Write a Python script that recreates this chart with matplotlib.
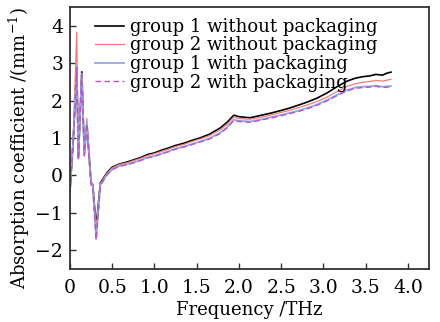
import numpy as np
import matplotlib
matplotlib.use("Agg")
import matplotlib.pyplot as plt

# frequency (THz)
freq = [0.0, 0.04, 0.08, 0.10, 0.14, 0.17, 0.20, 0.25, 0.27, 0.31, 0.36, 0.39,
        0.44, 0.50, 0.58, 0.68, 0.76, 0.84, 0.92, 1.00, 1.08, 1.15, 1.25, 1.35,
        1.45, 1.55, 1.65, 1.78, 1.86, 1.94, 2.00, 2.13, 2.25, 2.37, 2.49, 2.60,
        2.72, 2.82, 2.92, 3.04, 3.16, 3.28, 3.38, 3.47, 3.55, 3.62, 3.70, 3.76,
        3.80]

g1_without = [-0.45, 1.0, 2.9, 0.5, 2.77, 0.6, 1.35, -0.2, -0.25, -1.38, -0.2, -0.1,
              0.08, 0.22, 0.30, 0.36, 0.42, 0.48, 0.56, 0.60, 0.67, 0.72, 0.80, 0.86,
              0.94, 1.01, 1.10, 1.27, 1.42, 1.61, 1.57, 1.54, 1.60, 1.66, 1.73, 1.80,
              1.89, 1.97, 2.06, 2.20, 2.37, 2.52, 2.60, 2.64, 2.66, 2.70, 2.68, 2.74,
              2.76]

g2_without = [-0.40, 1.1, 3.83, 0.45, 2.70, 0.55, 1.52, -0.15, -0.25, -1.45, -0.22, -0.12,
              0.06, 0.20, 0.29, 0.34, 0.40, 0.46, 0.53, 0.58, 0.64, 0.69, 0.77, 0.83,
              0.91, 0.98, 1.06, 1.22, 1.37, 1.56, 1.52, 1.50, 1.55, 1.61, 1.68, 1.74,
              1.82, 1.89, 1.97, 2.09, 2.24, 2.38, 2.45, 2.49, 2.51, 2.54, 2.52, 2.55,
              2.57]

g1_with = [-0.35, 1.0, 2.91, 0.45, 2.72, 0.55, 1.40, -0.25, -0.30, -1.70, -0.25, -0.15,
           0.03, 0.16, 0.25, 0.30, 0.35, 0.41, 0.48, 0.52, 0.58, 0.63, 0.71, 0.77,
           0.84, 0.91, 0.99, 1.14, 1.29, 1.49, 1.46, 1.44, 1.49, 1.55, 1.61, 1.67,
           1.74, 1.81, 1.89, 2.01, 2.15, 2.28, 2.35, 2.37, 2.38, 2.40, 2.37, 2.38,
           2.39]

g2_with = [-0.38, 0.95, 2.88, 0.42, 2.70, 0.52, 1.38, -0.28, -0.32, -1.72, -0.27, -0.16,
           0.02, 0.15, 0.24, 0.29, 0.34, 0.40, 0.47, 0.51, 0.57, 0.62, 0.70, 0.76,
           0.83, 0.90, 0.97, 1.12, 1.27, 1.47, 1.44, 1.42, 1.47, 1.53, 1.59, 1.65,
           1.72, 1.79, 1.87, 1.99, 2.13, 2.26, 2.33, 2.35, 2.36, 2.38, 2.35, 2.36,
           2.37]

labels = ["group 1 without packaging", "group 2 without packaging",
          "group 1 with packaging", "group 2 with packaging"]


def main():
    plt.rcParams['font.family'] = ['DejaVu Serif']
    plt.rcParams['mathtext.fontset'] = 'dejavuserif'

    fig = plt.figure(figsize=(4.4, 3.22), dpi=100)
    ax = fig.add_axes([0.159, 0.165, 0.816, 0.813])

    ax.plot(freq, g1_without, color='black', lw=1.2, label=labels[0])
    ax.plot(freq, g2_without, color='#f47a7a', lw=0.9, label=labels[1])
    ax.plot(freq, g1_with, color='#97a6e6', lw=1.3, label=labels[2])
    ax.plot(freq, g2_with, color='#b455c8', lw=1.0, ls=(0, (4, 2.5)), label=labels[3])

    ax.set_xlim(0, 4.25)
    ax.set_ylim(-2.5, 4.5)
    ax.set_xticks([0, 0.5, 1.0, 1.5, 2.0, 2.5, 3.0, 3.5, 4.0])
    ax.set_xticklabels(['0', '0.5', '1.0', '1.5', '2.0', '2.5', '3.0', '3.5', '4.0'])
    ax.set_yticks([-2, -1, 0, 1, 2, 3, 4])
    ax.set_yticklabels(['\u22122', '\u22121', '0', '1', '2', '3', '4'])
    ax.tick_params(direction='in', length=4, width=1.0, labelsize=13.5,
                   color='#333333', pad=5)
    ax.tick_params(axis='x', pad=7)

    for s in ax.spines.values():
        s.set_color('#333333')
        s.set_linewidth(1.3)

    ax.set_xlabel('Frequency /THz', fontsize=13, labelpad=3)
    ax.set_ylabel('Absorption coefficient /(mm$^{-1}$)', fontsize=13)
    ax.yaxis.set_label_coords(-0.105, 0.46)

    ax.legend(loc='upper left', frameon=False, fontsize=13, handlelength=1.6,
              handletextpad=0.35, labelspacing=0.03, borderaxespad=0.2,
              bbox_to_anchor=(0.04, 1.0))

    fig.savefig('out.png', dpi=100)


if __name__ == "__main__":
    main()
